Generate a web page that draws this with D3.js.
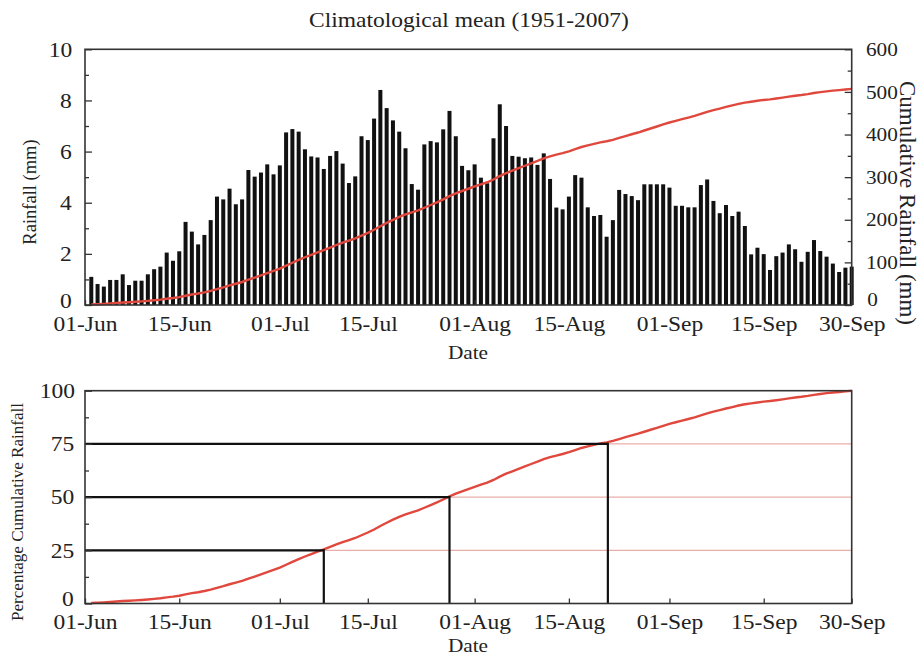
<!DOCTYPE html>
<html>
<head>
<meta charset="utf-8">
<script src="https://cdn.jsdelivr.net/npm/d3@7"></script>
<style>
  html, body { margin: 0; padding: 0; background: #fff; }
  svg { display: block; }
  text { font-family: "Liberation Serif", "Times New Roman", serif; fill: #222; }
  .wide { transform-box: fill-box; transform-origin: center; transform: scaleX(1.12); }
</style>
</head>
<body>
<svg id="chart" width="920" height="658"></svg>
<script>
// ---------------- data ----------------
// daily climatological mean rainfall (mm), 01-Jun .. 30-Sep (day 1..122)
const rainfall = [
  1.10, 0.82, 0.72, 0.98, 0.98, 1.20, 0.78, 0.95, 0.95, 1.20,
  1.40, 1.50, 2.05, 1.73, 2.10, 3.25, 2.87, 2.37, 2.74, 3.32,
  4.24, 4.13, 4.55, 3.94, 4.13, 5.28, 5.02, 5.18, 5.50, 5.11,
  5.46, 6.75, 6.88, 6.78, 6.09, 5.81, 5.77, 5.32, 5.83, 6.02,
  5.53, 4.77, 5.03, 6.60, 6.45, 7.29, 8.41, 7.70, 7.22, 6.78,
  6.13, 4.73, 4.51, 6.28, 6.41, 6.36, 6.87, 7.59, 6.60, 5.44,
  5.27, 5.50, 4.98, 4.76, 6.52, 7.85, 7.00, 5.83, 5.80, 5.74,
  5.77, 5.48, 5.93, 4.93, 3.81, 3.74, 4.24, 5.08, 4.98, 3.82,
  3.48, 3.52, 2.67, 3.32, 4.50, 4.34, 4.26, 4.10, 4.72, 4.72,
  4.72, 4.72, 4.59, 3.88, 3.88, 3.82, 3.82, 4.69, 4.91, 4.07,
  3.59, 3.91, 3.48, 3.65, 3.09, 1.98, 2.24, 1.99, 1.37, 1.91,
  2.05, 2.37, 2.18, 1.69, 2.08, 2.54, 2.11, 1.89, 1.62, 1.29,
  1.46, 1.50
];
const dayNumbers = d3.range(1, rainfall.length + 1);
const dateTickDays = [0, 15, 31, 45, 62, 77, 93, 108, 122];
const dateTickLabels = ["01-Jun", "15-Jun", "01-Jul", "15-Jul", "01-Aug", "15-Aug", "01-Sep", "15-Sep", "30-Sep"];
const rainTicks = [0, 2, 4, 6, 8, 10];
const cumTicks = [0, 100, 200, 300, 400, 500, 600];
const pctTicks = [0, 25, 50, 75, 100];
const pctLevels = [25, 50, 75];
const pctLevelDays = [38, 58, 83.2];

const titleText = "Climatological mean (1951-2007)";

// ---------------- layout ----------------
const svg = d3.select("#chart");
const L = 85, R = 851.7;
const top1 = 49.3, bot1 = 305;
const top2 = 390.7, bot2 = 603.5;
const frameColor = "#333";

const x = d3.scaleLinear().domain([0, 122]).range([L, R]);
const yRain = d3.scaleLinear().domain([0, 10]).range([bot1, top1]);
const yCum = d3.scaleLinear().domain([0, 600]).range([bot1, top1]);
const yPct = d3.scaleLinear().domain([0, 100]).range([bot2, top2]);

const cum = Array.from(d3.cumsum(rainfall));
const total = cum[cum.length - 1];
const pct = cum.map(v => v / total * 100);

// ---------------- top chart ----------------
const g1 = svg.append("g");

g1.selectAll("rect.bar").data(rainfall).join("rect")
  .attr("class", "bar")
  .attr("x", (v, i) => x(dayNumbers[i]) - 2)
  .attr("width", 4)
  .attr("y", v => yRain(v))
  .attr("height", v => yRain(0) - yRain(v))
  .attr("fill", "#111");

g1.append("path")
  .datum(cum)
  .attr("fill", "none")
  .attr("stroke", "#e0483e")
  .attr("stroke-width", 2.4)
  .attr("d", d3.line().x((v, i) => x(dayNumbers[i])).y(v => yCum(v)));

// frame
g1.append("rect").attr("x", L).attr("y", top1).attr("width", R - L).attr("height", bot1 - top1)
  .attr("fill", "none").attr("stroke", frameColor).attr("stroke-width", 1.6);

function styleAxis(sel, size) {
  sel.select(".domain").remove();
  sel.selectAll(".tick line").attr("stroke", frameColor).attr("stroke-width", 1.3);
  sel.selectAll(".tick text").attr("font-size", size).attr("fill", "#222")
     .attr("font-family", '"Liberation Serif", serif');
}

// left axis
const aL = g1.append("g").attr("transform", `translate(${L},0)`)
  .call(d3.axisLeft(yRain).tickValues(rainTicks).tickSize(-7).tickPadding(14).tickFormat(d3.format("d")));
styleAxis(aL, 21);
aL.selectAll(".tick text").filter(d => d === 0).attr("dy", "0.1em");
const aLm = g1.append("g").attr("transform", `translate(${L},0)`)
  .call(d3.axisLeft(yRain).tickValues([1, 3, 5, 7, 9]).tickSize(-4).tickFormat(""));
styleAxis(aLm, 0);

// right axis
const aR = g1.append("g").attr("transform", `translate(${R},0)`)
  .call(d3.axisRight(yCum).tickValues(cumTicks).tickSize(-7).tickPadding(16).tickFormat(d3.format("d")));
styleAxis(aR, 19);
aR.selectAll(".tick text").filter(d => d === 0).attr("dy", "0.05em");
const aRm = g1.append("g").attr("transform", `translate(${R},0)`)
  .call(d3.axisRight(yCum).tickValues([50, 150, 250, 350, 450, 550]).tickSize(-4).tickFormat(""));
styleAxis(aRm, 0);

// bottom axis
const aB1 = g1.append("g").attr("transform", `translate(0,${bot1})`)
  .call(d3.axisBottom(x).tickValues(dateTickDays).tickSize(-5).tickPadding(11)
    .tickFormat((d, i) => dateTickLabels[i]));
styleAxis(aB1, 21);

g1.selectAll(".tick text").classed("wide", true);

// titles
svg.append("text").attr("class", "wide").attr("x", 469).attr("y", 27).attr("text-anchor", "middle")
  .attr("font-size", 21).text(titleText);
svg.append("text").attr("class", "wide").attr("x", 468).attr("y", 359).attr("text-anchor", "middle")
  .attr("font-size", 19).text("Date");
svg.append("text").attr("transform", "translate(36,192) rotate(-90)").attr("text-anchor", "middle")
  .attr("font-size", 18.5).text("Rainfall (mm)");
svg.append("text").attr("transform", "translate(900,203) rotate(90)").attr("text-anchor", "middle")
  .attr("font-size", 23).text("Cumulative Rainfall (mm)");

// ---------------- bottom chart ----------------
const g2 = svg.append("g");

// thin reference lines
g2.selectAll("line.ref").data(pctLevels).join("line")
  .attr("class", "ref")
  .attr("x1", L).attr("x2", R)
  .attr("y1", d => yPct(d)).attr("y2", d => yPct(d))
  .attr("stroke", "#e39a94").attr("stroke-width", 1);

// curve
g2.append("path")
  .datum(pct)
  .attr("fill", "none")
  .attr("stroke", "#e0483e")
  .attr("stroke-width", 2.4)
  .attr("d", d3.line().x((v, i) => x(dayNumbers[i])).y(v => yPct(v)));

// black marker lines
g2.selectAll("line.hmark").data(pctLevels).join("line")
  .attr("class", "hmark")
  .attr("x1", L).attr("x2", (d, i) => x(pctLevelDays[i]))
  .attr("y1", d => yPct(d)).attr("y2", d => yPct(d))
  .attr("stroke", "#111").attr("stroke-width", 2.2);
g2.selectAll("line.vmark").data(pctLevels).join("line")
  .attr("class", "vmark")
  .attr("x1", (d, i) => x(pctLevelDays[i])).attr("x2", (d, i) => x(pctLevelDays[i]))
  .attr("y1", yPct(0)).attr("y2", d => yPct(d) - 1.1)
  .attr("stroke", "#111").attr("stroke-width", 2.2);

g2.append("rect").attr("x", L).attr("y", top2).attr("width", R - L).attr("height", bot2 - top2)
  .attr("fill", "none").attr("stroke", frameColor).attr("stroke-width", 1.6);

const bL = g2.append("g").attr("transform", `translate(${L},0)`)
  .call(d3.axisLeft(yPct).tickValues(pctTicks).tickSize(-7).tickPadding(12).tickFormat(d3.format("d")));
styleAxis(bL, 21);
bL.selectAll(".tick text").filter(d => d === 0).attr("dy", "0.1em");
const bLm = g2.append("g").attr("transform", `translate(${L},0)`)
  .call(d3.axisLeft(yPct).tickValues([12.5, 37.5, 62.5, 87.5]).tickSize(-4).tickFormat(""));
styleAxis(bLm, 0);

const bB = g2.append("g").attr("transform", `translate(0,${bot2})`)
  .call(d3.axisBottom(x).tickValues(dateTickDays).tickSize(-5).tickPadding(11)
    .tickFormat((d, i) => dateTickLabels[i]));
styleAxis(bB, 21);
g2.selectAll(".tick text").classed("wide", true);

svg.append("text").attr("class", "wide").attr("x", 468).attr("y", 652).attr("text-anchor", "middle")
  .attr("font-size", 19).text("Date");
svg.append("text").attr("transform", "translate(23,512) rotate(-90)").attr("text-anchor", "middle")
  .attr("font-size", 16).attr("textLength", 218).attr("lengthAdjust", "spacingAndGlyphs")
  .text("Percentage Cumulative Rainfall");
</script>
</body>
</html>
